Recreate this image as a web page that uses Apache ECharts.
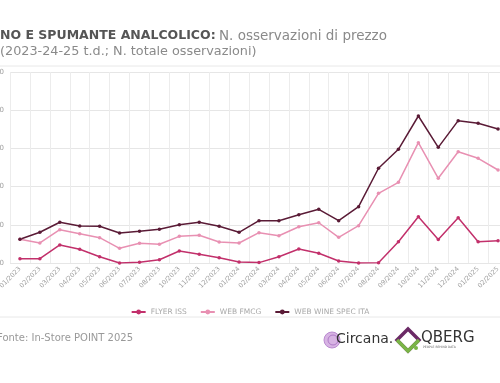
<!DOCTYPE html>
<html>
<head>
<meta charset="utf-8">
<script src="https://cdn.jsdelivr.net/npm/echarts@6/dist/echarts.min.js"></script>
<style>html,body{margin:0;padding:0;background:#fff}#c{width:500px;height:383px}</style>
</head>
<body>
<div id="c"></div>
<script>
var categories = ['01/2023','02/2023','03/2023','04/2023','05/2023','06/2023','07/2023','08/2023','10/2023','11/2023','12/2023','01/2024','02/2024','03/2024','04/2024','05/2024','06/2024','07/2024','08/2024','09/2024','10/2024','11/2024','12/2024','01/2025','02/2025'];
var flyerIss = [5.6,5.6,23.6,17.9,8.2,0,1,4.3,15.7,11.4,6.9,1.3,0.5,8.2,18.3,12.7,2.6,0,0.4,27.9,60.6,30.8,59.3,27.9,29.2];
var webFmcg = [31,26.2,43.6,38.4,33.1,19.2,25.8,24.5,34.9,36.3,27.5,26.2,39.7,35.7,47.5,52.7,33.6,48.8,91.2,105.6,157.5,110.9,145.7,137,121.7];
var webWine = [31,40.2,53.3,48.4,48,39.3,41.5,44.1,50.1,53.3,48,40.2,55.4,55.4,63.2,70.3,55.4,73.7,124,148.8,192.4,151.4,186.3,182.9,175.4];
var seriesNames = ['FLYER ISS','WEB FMCG','WEB WINE SPEC ITA'];
var colors = ['#c2306b','#e890b2','#5a1b36'];

var chart = echarts.init(document.getElementById('c'));
var FONT = 'DejaVu Sans';
function mk(name, data, color) {
  return {
    name: name, type: 'line', data: data,
    symbol: 'circle', symbolSize: 3.5,
    lineStyle: { width: 1.5, color: color },
    itemStyle: { color: color },
    emphasis: { disabled: true }
  };
}
chart.setOption({
  animation: false,
  textStyle: { fontFamily: FONT },
  grid: { left: 10, right: -8, top: 72, bottom: 120, containLabel: false, outerBoundsMode: 'none' },
  xAxis: {
    type: 'category', data: categories, boundaryGap: true,
    axisLine: { show: false }, axisTick: { show: false },
    splitLine: { show: true, lineStyle: { color: '#ececec', width: 1 } },
    axisLabel: { rotate: 45, fontSize: 6.5, color: '#a0a0a0', margin: 5, interval: 0, fontFamily: FONT }
  },
  yAxis: {
    type: 'value', min: 0, max: 250, interval: 50,
    axisLine: { show: false }, axisTick: { show: false },
    splitLine: { lineStyle: { color: '#e6e6e6', width: 1 } },
    axisLabel: { fontSize: 7, color: '#a0a0a0', margin: 6, fontFamily: FONT }
  },
  legend: {
    data: seriesNames, top: 303, left: 'center',
    itemWidth: 14, itemHeight: 6, itemGap: 13,
    textStyle: { fontSize: 7.5, color: '#a8a8a8', fontFamily: FONT }
  },
  series: [mk(seriesNames[0], flyerIss, colors[0]), mk(seriesNames[1], webFmcg, colors[1]), mk(seriesNames[2], webWine, colors[2])],
  graphic: [
    { type: 'text', left: 0, top: 29, style: {
        rich: { b: { font: 'bold 12.5px "DejaVu Sans"', fill: '#555' }, r: { font: '13.5px "DejaVu Sans"', fill: '#8a8a8a' } },
        text: '{b|NO E SPUMANTE ANALCOLICO:} {r|N. osservazioni di prezzo}' } },
    { type: 'text', left: 0, top: 45, style: { text: '(2023-24-25 t.d.; N. totale osservazioni)', font: '12.8px "DejaVu Sans"', fill: '#8a8a8a' } },
    { type: 'line', shape: { x1: 0, y1: 66, x2: 500, y2: 66 }, style: { stroke: '#e8e8e8', lineWidth: 1 } },
    { type: 'line', shape: { x1: 0, y1: 317, x2: 500, y2: 317 }, style: { stroke: '#e8e8e8', lineWidth: 1 } },
    { type: 'text', left: -3, top: 333, style: { text: 'Fonte: In-Store POINT 2025', font: '10px "DejaVu Sans"', fill: '#999' } },
    { type: 'circle', shape: { cx: 332, cy: 340, r: 8 }, style: { fill: '#d7b3e3', stroke: '#b98ad0', lineWidth: 1 } },
    { type: 'circle', shape: { cx: 333, cy: 340, r: 5 }, style: { fill: 'none', stroke: '#a46cc0', lineWidth: 0.8 } },
    { type: 'text', left: 336, top: 332, style: { text: 'Circana.', font: '14px "DejaVu Sans"', fill: '#333' } },
    { type: 'polygon', shape: { points: [[408,329],[419,340],[408,351],[397,340]] }, style: { fill: 'none', stroke: '#6b2a66', lineWidth: 3.5 } },
    { type: 'polyline', shape: { points: [[397,340],[408,351],[419,340]] }, style: { stroke: '#7ab547', lineWidth: 3.5, fill: 'none' } },
    { type: 'circle', shape: { cx: 416, cy: 348, r: 2 }, style: { fill: '#7ab547' } },
    { type: 'text', left: 421, top: 331, style: { text: 'QBERG', font: '15px "DejaVu Sans"', fill: '#333' } },
    { type: 'text', left: 423, top: 346, style: { text: 'PEOPLE BEHIND DATA', font: '3px "DejaVu Sans"', fill: '#666' } }
  ]
});
</script>
</body>
</html>
